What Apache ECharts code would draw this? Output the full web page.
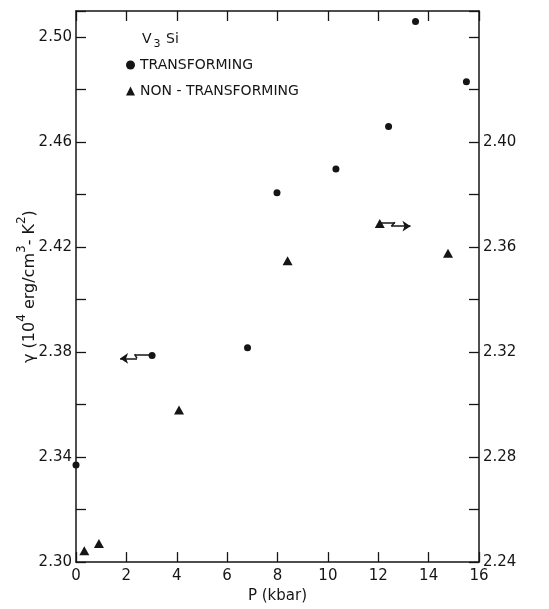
<!DOCTYPE html>
<html>
<head>
    <meta charset="utf-8">
    <script src="https://cdn.jsdelivr.net/npm/echarts@6/dist/echarts.min.js"></script>
</head>
<body style="margin:0">

    <div id="main" style="width: 549px;height:609px;position:absolute"></div>

<script type="text/javascript">
// P (kbar) and gamma values
var transP = [0, 3.02, 6.81, 7.98, 10.32, 12.41, 13.48, 15.5];
var transG = [2.337, 2.3787, 2.3817, 2.4407, 2.4498, 2.466, 2.506, 2.483];
var nonP = [0.33, 0.91, 4.09, 8.4, 12.06, 14.77];
var nonG = [2.3043, 2.3071, 2.358, 2.4148, 2.429, 2.4177];

// the two zigzag arrows (last segment gets the arrow head)
var arrowLeft = [[3.02, 2.3792], [2.33, 2.3792], [2.42, 2.3776], [1.75, 2.3776]];
var arrowRight = [[12.06, 2.4295], [12.66, 2.4295], [12.52, 2.4280], [13.28, 2.4280]];

var pairs = function (xs, ys) {
    return xs.map(function (x, i) { return [x, ys[i]]; });
};
var segs = function (path) {
    var out = [];
    for (var i = 0; i < path.length - 2; i++) out.push({coords: [path[i], path[i + 1]]});
    return out;
};
var lastSeg = function (path) {
    return {coords: [path[path.length - 2], path[path.length - 1]]};
};

var ink = '#151515';
var font = 'DejaVu Sans';
var tick = {inside: true, length: 10, lineStyle: {color: ink, width: 1.3}};
var line = {show: true, onZero: false, lineStyle: {color: ink, width: 1.5}};

var myChart = echarts.init(document.getElementById('main'));
myChart.setOption({
    animation: false,
    textStyle: {fontFamily: font, color: ink},
    title: {
        text: '{n|V}{s|3}{n| Si}',
        left: 137,
        top: 27,
        textStyle: {
            fontWeight: 'normal',
            rich: {
                n: {fontFamily: font, fontSize: 14, fontWeight: 'normal', color: ink, lineHeight: 18, verticalAlign: 'top'},
                s: {fontFamily: font, fontSize: 11, fontWeight: 'normal', color: ink, lineHeight: 18, verticalAlign: 'bottom', padding: [0, 1, 0, 2]}
            }
        }
    },
    legend: {
        orient: 'vertical',
        left: 121,
        top: 52,
        itemWidth: 9,
        itemHeight: 9,
        itemGap: 10,
        textStyle: {fontFamily: font, fontSize: 14, color: ink, lineHeight: 16},
        data: [
            {name: 'TRANSFORMING', icon: 'circle'},
            {name: 'NON - TRANSFORMING', icon: 'triangle'}
        ]
    },
    grid: {left: 76, right: 70, top: 11, bottom: 43},
    xAxis: [{
        type: 'value',
        min: 0, max: 16, interval: 2,
        name: 'P (kbar)',
        nameLocation: 'middle',
        nameGap: 24,
        nameTextStyle: {fontSize: 15, color: ink, fontFamily: font},
        axisLine: line,
        axisTick: tick,
        axisLabel: {fontSize: 15, color: ink, margin: 7},
        splitLine: {show: false}
    }, {
        type: 'value',
        position: 'top',
        min: 0, max: 16, interval: 2,
        axisLine: line,
        axisTick: tick,
        axisLabel: {show: false},
        splitLine: {show: false}
    }],
    yAxis: [{
        type: 'value',
        min: 2.30, max: 2.51, interval: 0.02,
        name: '{n|\u03b3 (10}{s|4}{n| erg/cm}{s|3}{n|- K}{s|2}{n|)}',
        nameLocation: 'middle',
        nameGap: 38,
        nameMoveOverlap: false,
        nameTextStyle: {
            rich: {
                n: {fontFamily: font, fontSize: 16, color: ink, lineHeight: 22, verticalAlign: 'bottom'},
                s: {fontFamily: font, fontSize: 12, color: ink, lineHeight: 22, verticalAlign: 'top'}
            }
        },
        axisLine: line,
        axisTick: tick,
        axisLabel: {
            fontSize: 15, color: ink, margin: 4,
            formatter: function (v) {
                var k = Math.round(v * 100);
                return (k % 4 === 2 && k <= 250) ? v.toFixed(2) : '';
            }
        },
        splitLine: {show: false}
    }, {
        type: 'value',
        position: 'right',
        min: 2.24, max: 2.45, interval: 0.02,
        axisLine: line,
        axisTick: tick,
        axisLabel: {
            fontSize: 15, color: ink, margin: 4,
            formatter: function (v) {
                var k = Math.round(v * 100);
                return (k % 4 === 0 && k <= 240) ? v.toFixed(2) : '';
            }
        },
        splitLine: {show: false}
    }],
    series: [{
        name: 'TRANSFORMING',
        type: 'scatter',
        symbol: 'circle',
        symbolSize: 7,
        itemStyle: {color: ink, opacity: 1},
        data: pairs(transP, transG)
    }, {
        name: 'NON - TRANSFORMING',
        type: 'scatter',
        symbol: 'triangle',
        symbolSize: [10, 9],
        itemStyle: {color: ink, opacity: 1},
        data: pairs(nonP, nonG)
    }, {
        type: 'lines',
        coordinateSystem: 'cartesian2d',
        symbol: ['none', 'none'],
        lineStyle: {color: ink, width: 1.5, opacity: 1},
        data: segs(arrowLeft).concat(segs(arrowRight))
    }, {
        type: 'lines',
        coordinateSystem: 'cartesian2d',
        symbol: ['none', 'arrow'],
        symbolSize: 8,
        lineStyle: {color: ink, width: 1.5, opacity: 1},
        data: [lastSeg(arrowLeft), lastSeg(arrowRight)]
    }]
});
</script>

</body>
</html>
